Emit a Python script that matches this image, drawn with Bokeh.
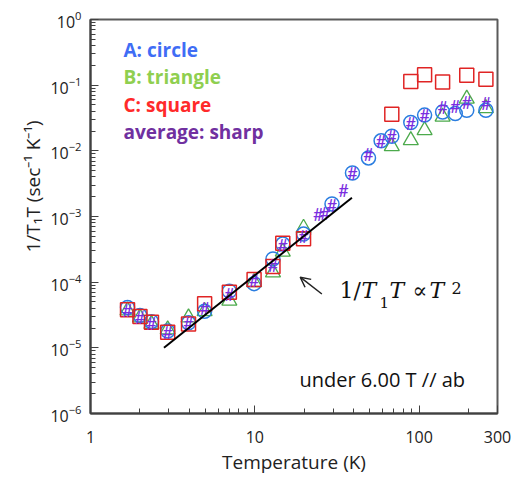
import numpy as np
from bokeh.plotting import figure
from bokeh.models import Label, Arrow, OpenHead, FixedTicker, NumeralTickFormatter, ColumnDataSource, Title
from bokeh.core.properties import value
from bokeh.embed import file_html
from bokeh.resources import INLINE

# ---- data ----
T_A = [1.68, 2.0, 2.35, 2.95, 3.95, 4.95, 7.0, 9.9, 12.9, 14.8, 19.8, 29.5, 39.3, 49.2, 58.7, 68.2, 89, 108, 139, 166, 195, 255]
A_vals = [4.1e-5, 3.1e-5, 2.5e-5, 1.8e-5, 2.4e-5, 3.6e-5, 7.3e-5, 9.5e-5, 2.25e-4, 3.8e-4, 5.4e-4, 1.55e-3, 4.6e-3, 7.8e-3, 1.42e-2, 1.67e-2, 2.7e-2, 3.5e-2, 3.9e-2, 3.7e-2, 4.15e-2, 4.15e-2]

T_B = [1.68, 2.0, 2.35, 2.95, 3.95, 4.95, 7.0, 9.9, 12.9, 14.8, 19.8, 68.2, 89, 108, 139, 195, 255]
B_vals = [3.7e-5, 2.9e-5, 2.3e-5, 1.9e-5, 2.9e-5, 3.6e-5, 5.2e-5, 1.0e-4, 1.4e-4, 2.9e-4, 6.7e-4, 1.17e-2, 1.45e-2, 2.06e-2, 3.3e-2, 6.2e-2, 4.45e-2]

T_C = [1.68, 2.0, 2.35, 2.95, 3.95, 4.95, 7.0, 9.9, 12.9, 14.8, 19.8, 68.2, 89, 108, 139, 195, 255]
C_vals = [3.8e-5, 3.0e-5, 2.45e-5, 1.72e-5, 2.3e-5, 4.7e-5, 7.0e-5, 1.1e-4, 1.73e-4, 3.9e-4, 4.6e-4, 3.6e-2, 0.114, 0.144, 0.112, 0.141, 0.123]

T_avg = [1.68, 2.0, 2.35, 2.95, 3.95, 4.95, 7.0, 9.9, 12.9, 14.8, 19.8, 24.3, 26.8, 29.5, 34.7, 39.3, 49.2, 58.7, 68.2, 89, 108, 139, 166, 195, 255]
avg_vals = [3.8e-5, 3.0e-5, 2.4e-5, 1.75e-5, 2.4e-5, 4.1e-5, 6.5e-5, 1.08e-4, 1.8e-4, 3.7e-4, 5.0e-4, 1.1e-3, 1.15e-3, 1.5e-3, 2.5e-3, 4.6e-3, 9.1e-3, 1.42e-2, 1.67e-2, 2.7e-2, 3.5e-2, 4.65e-2, 4.9e-2, 5.5e-2, 5.35e-2]

fit_T = [2.8, 39.0]
fit_vals = [1.0e-5, 1.93e-3]

x_major = [1, 10, 100, 300]
x_minor = [2, 3, 4, 5, 6, 7, 8, 9, 20, 30, 40, 50, 60, 70, 80, 90, 200]
y_major = [1e-6, 1e-5, 1e-4, 1e-3, 1e-2, 1e-1, 1]
x_labels = {1: "1", 10: "10", 100: "100", 300: "300"}

legend_texts = ["A: circle", "B: triangle", "C: square", "average:  sharp"]
legend_colors = ["#3f6df5", "#8fcf50", "#ff2a2a", "#7030a0"]

FONT = "Open Sans"

p = figure(width=511, height=477, x_axis_type="log", y_axis_type="log",
           x_range=(1, 300), y_range=(1e-6, 1),
           output_backend="svg", toolbar_location=None,
           min_border_left=90, min_border_right=14, min_border_top=19, min_border_bottom=63)
p.grid.visible = False
p.outline_line_color = "#5a5a5a"
p.outline_line_width = 2
p.background_fill_color = "white"
p.border_fill_color = "white"

y_minor = [m * d for d in y_major[:-1] for m in range(2, 10)]
p.xaxis.ticker = FixedTicker(ticks=x_major, minor_ticks=x_minor)
p.yaxis.ticker = FixedTicker(ticks=y_major, minor_ticks=y_minor)
p.xaxis.major_label_overrides = x_labels
p.xaxis.formatter = NumeralTickFormatter(format="0")

for ax in (p.xaxis, p.yaxis):
    ax.axis_line_color = "#404040"
    ax.axis_line_width = 2
    ax.major_tick_line_color = "#404040"
    ax.minor_tick_line_color = "#404040"
    ax.major_tick_line_width = 1
    ax.minor_tick_line_width = 1
    ax.major_tick_in = 8
    ax.major_tick_out = 0
    ax.minor_tick_in = 5
    ax.minor_tick_out = 0
    ax.major_label_text_font = FONT
    ax.major_label_text_font_size = "16px"
    ax.major_label_text_color = "#222222"

p.xaxis.major_label_standoff = 17
p.yaxis.major_label_standoff = 9
p.xaxis.axis_label = "Temperature (K)"
p.xaxis.axis_label_text_font = FONT
p.xaxis.axis_label_text_font_size = "19px"
p.xaxis.axis_label_text_font_style = "normal"
p.xaxis.axis_label_text_color = "#222222"
p.xaxis.axis_label_standoff = 3

# y axis label as a left-side title
p.add_layout(Title(text="1/T\u2081T  (sec\u207b\u00b9 K\u207b\u00b9)", align="left", offset=161, standoff=4,
                   text_font=FONT, text_font_size="19px", text_font_style="normal",
                   text_color="#222222"), "left")

# ---- data marks ----
p.scatter(T_B, B_vals, marker="triangle", size=15, fill_color=None, line_color="#4caa4c", line_width=1.3)
p.scatter(T_A, A_vals, marker="circle", size=14, fill_color=None, line_color="#2a7de0", line_width=1.5)
p.scatter(T_C, C_vals, marker="square", size=14, fill_color=None, line_color="#e02424", line_width=1.5)
src_avg = ColumnDataSource(dict(x=T_avg, y=avg_vals, t=["#"] * len(T_avg)))
p.text(x="x", y="y", text="t", source=src_avg, text_font=value("Lato"), text_font_size="18px",
       text_color="#7a2ee0", text_align="center", text_baseline="middle")

p.line(fit_T, fit_vals, line_color="black", line_width=2)

p.add_layout(Arrow(end=OpenHead(size=10, line_width=1.5, line_color="#222222"),
                   x_start=25.6, y_start=6.6e-5, x_end=18.9, y_end=1.19e-4,
                   line_width=1.5, line_color="#222222"))

# ---- legend texts ----
for i, (t, c) in enumerate(zip(legend_texts, legend_colors)):
    p.add_layout(Label(x=33, y=364 - i * 27.5, x_units="screen", y_units="screen", text=t,
                       text_font=FONT, text_font_size="19px", text_font_style="bold",
                       text_color=c, text_baseline="middle"))

# ---- annotation texts ----
p.add_layout(Label(x=209, y=21, x_units="screen", y_units="screen", text="under 6.00 T // ab",
                   text_font=FONT, text_font_size="20px", text_color="#111111"))

SERIF = "DejaVu Serif"
math_parts = [("1/", 249, 111, "22px", "normal"), ("T", 271, 111, "22px", "italic"),
              ("1", 289, 106, "15px", "normal"), ("T", 299, 111, "22px", "italic"),
              ("\u221d", 322, 111, "22px", "normal"), ("T", 339, 111, "22px", "italic"),
              ("2", 361, 120, "16px", "normal")]
for t, x, y, fs, st in math_parts:
    p.add_layout(Label(x=x, y=y, x_units="screen", y_units="screen", text=t,
                       text_font=SERIF, text_font_size=fs, text_font_style=st,
                       text_color="#111111"))

open("out.html", "w").write(file_html(p, INLINE))
